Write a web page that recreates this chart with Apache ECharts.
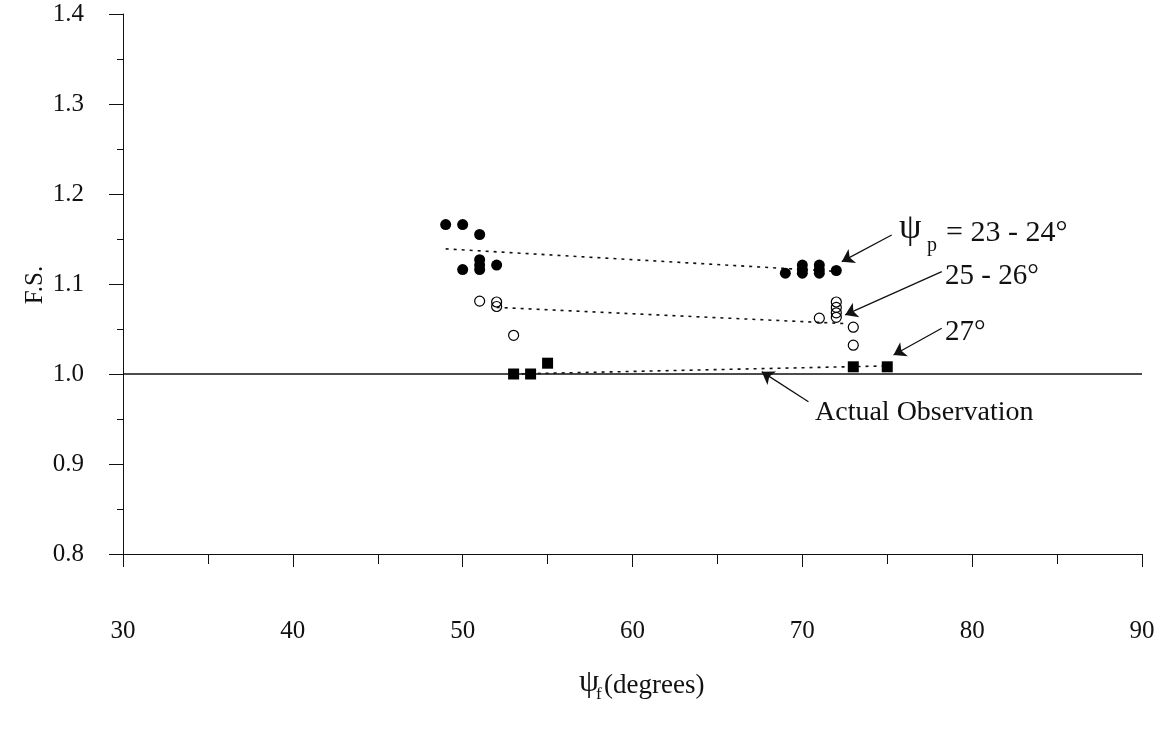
<!DOCTYPE html>
<html>
<head>
<meta charset="utf-8">
<script src="https://cdn.jsdelivr.net/npm/echarts@6/dist/echarts.min.js"></script>
<style>
  html, body { margin: 0; padding: 0; background: #fff; }
  #chart { width: 1174px; height: 730px; }
</style>
</head>
<body>
<div id="chart"></div>
<script>
// ---- Data ----
// psi_p = 23 - 24 deg (filled circles)
const filledX = [49, 50, 51, 51, 51, 51, 50, 52, 69, 70, 70, 70, 71, 71, 71, 72];
const filledY = [1.166, 1.166, 1.155, 1.127, 1.121, 1.116, 1.116, 1.121, 1.112, 1.121, 1.116, 1.112, 1.121, 1.116, 1.112, 1.115];
// 25 - 26 deg (open circles)
const openX = [51, 52, 52, 53, 71, 72, 72, 72, 72, 73, 73];
const openY = [1.081, 1.080, 1.075, 1.043, 1.062, 1.080, 1.074, 1.068, 1.063, 1.052, 1.032];
// 27 deg (filled squares)
const squareX = [53, 54, 55, 73, 75];
const squareY = [1.000, 1.000, 1.012, 1.008, 1.008];
// dotted trend lines (endpoints)
const trendFilledX = [49, 72];
const trendFilledY = [1.139, 1.114];
const trendOpenX = [52, 72.5];
const trendOpenY = [1.074, 1.056];
const trendSquareX = [53, 75];
const trendSquareY = [1.000, 1.009];
// actual observation line
const obsX = [30, 90];
const obsY = [1.0, 1.0];
// axis ticks
const xTicks = [30, 40, 50, 60, 70, 80, 90];
const yTicks = [0.8, 0.9, 1.0, 1.1, 1.2, 1.3, 1.4];

const zip = (xs, ys) => xs.map((x, i) => [x, ys[i]]);
const FONT = "'Liberation Serif', 'DejaVu Serif', serif";
const INK = '#111';

const chart = echarts.init(document.getElementById('chart'), null, { renderer: 'canvas' });

const option = {
  animation: false,
  backgroundColor: '#fff',
  grid: { left: 123, right: 32, top: 14, bottom: 176, containLabel: false },
  xAxis: {
    type: 'value',
    min: xTicks[0], max: xTicks[xTicks.length - 1], interval: 10,
    axisLine: { show: true, onZero: false, lineStyle: { color: INK, width: 1 } },
    axisTick: { show: true, inside: false, length: 13, lineStyle: { color: INK, width: 1 } },
    minorTick: { show: true, splitNumber: 2, length: 10, lineStyle: { color: INK, width: 1 } },
    splitLine: { show: false },
    axisLabel: { color: INK, fontFamily: FONT, fontSize: 25, margin: 65 }
  },
  yAxis: {
    type: 'value',
    min: yTicks[0], max: yTicks[yTicks.length - 1], interval: 0.1,
    axisLine: { show: true, onZero: false, lineStyle: { color: INK, width: 1 } },
    axisTick: { show: true, inside: false, length: 14, lineStyle: { color: INK, width: 1 } },
    minorTick: { show: true, splitNumber: 2, length: 6, lineStyle: { color: INK, width: 1 } },
    splitLine: { show: false },
    axisLabel: { color: INK, fontFamily: FONT, fontSize: 25, margin: 39,
      formatter: v => v.toFixed(1) }
  },
  series: [
    {
      name: 'obs', type: 'line', data: zip(obsX, obsY), symbol: 'none',
      lineStyle: { color: INK, width: 1.5, type: 'solid' }, z: 2,
      markLine: {
        silent: true, symbol: ['none', 'arrow'], symbolSize: 12,
        label: { show: false },
        lineStyle: { color: INK, width: 1.3, type: 'solid' },
        data: [
          [{ coord: [75.26, 1.1544] }, { coord: [72.32, 1.1248] }],
          [{ coord: [78.21, 1.1137] }, { coord: [72.52, 1.0656] }],
          [{ coord: [78.21, 1.0508] }, { coord: [75.37, 1.0211] }],
          [{ coord: [70.36, 0.9692] }, { coord: [67.61, 1.0026] }]
        ]
      }
    },
    { name: 'trend1', type: 'line', data: zip(trendFilledX, trendFilledY), symbol: 'none',
      lineStyle: { color: INK, width: 1.6, type: [3, 5] }, z: 3 },
    { name: 'trend2', type: 'line', data: zip(trendOpenX, trendOpenY), symbol: 'none',
      lineStyle: { color: INK, width: 1.6, type: [3, 5] }, z: 3 },
    { name: 'trend3', type: 'line', data: zip(trendSquareX, trendSquareY), symbol: 'none',
      lineStyle: { color: INK, width: 1.6, type: [3, 5] }, z: 3 },
    { name: 'psi23', type: 'scatter', data: zip(filledX, filledY), symbol: 'circle', symbolSize: 11,
      itemStyle: { color: '#000', opacity: 1 }, z: 5 },
    { name: 'psi25', type: 'scatter', data: zip(openX, openY), symbol: 'circle', symbolSize: 10,
      itemStyle: { color: 'rgba(0,0,0,0)', borderColor: '#000', borderWidth: 1.2, opacity: 1 }, z: 5 },
    { name: 'psi27', type: 'scatter', data: zip(squareX, squareY), symbol: 'rect', symbolSize: 11,
      itemStyle: { color: '#000', opacity: 1 }, z: 5 }
  ],
  graphic: [
    // y-axis title
    { type: 'text', x: 35, y: 285, rotation: Math.PI / 2,
      style: { text: 'F.S.', fill: INK, font: '25px ' + FONT, align: 'center', verticalAlign: 'middle' } },
    // x-axis title
    { type: 'text', x: 579, y: 683,
      style: { text: 'ψ', fill: INK, font: '32px ' + FONT, align: 'left', verticalAlign: 'middle' } },
    { type: 'text', x: 596, y: 695,
      style: { text: 'f', fill: INK, font: '17px ' + FONT, align: 'left', verticalAlign: 'middle' } },
    { type: 'text', x: 604, y: 686,
      style: { text: '(degrees)', fill: INK, font: '27px ' + FONT, align: 'left', verticalAlign: 'middle' } },
    // annotation: psi_p = 23 - 24
    { type: 'text', x: 899, y: 229,
      style: { text: 'ψ', fill: INK, font: '36px ' + FONT, align: 'left', verticalAlign: 'middle' } },
    { type: 'text', x: 927, y: 246,
      style: { text: 'p', fill: INK, font: '20px ' + FONT, align: 'left', verticalAlign: 'middle' } },
    { type: 'text', x: 946, y: 233,
      style: { text: '= 23 - 24°', fill: INK, font: '30px ' + FONT, align: 'left', verticalAlign: 'middle' } },
    { type: 'text', x: 945, y: 276,
      style: { text: '25 - 26°', fill: INK, font: '29px ' + FONT, align: 'left', verticalAlign: 'middle' } },
    { type: 'text', x: 945, y: 332,
      style: { text: '27°', fill: INK, font: '29px ' + FONT, align: 'left', verticalAlign: 'middle' } },
    { type: 'text', x: 815, y: 413,
      style: { text: 'Actual Observation', fill: INK, font: '28px ' + FONT, align: 'left', verticalAlign: 'middle' } }
  ]
};

chart.setOption(option);
</script>
</body>
</html>
